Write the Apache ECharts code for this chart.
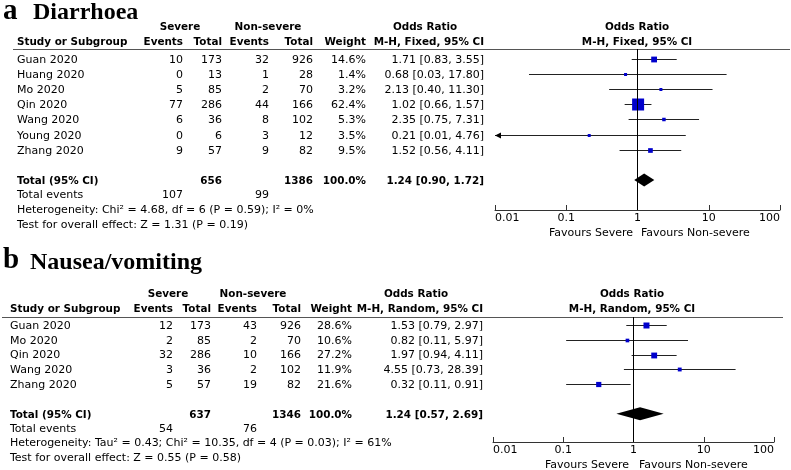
<!DOCTYPE html>
<html><head><meta charset="utf-8">
<script src="https://cdn.jsdelivr.net/npm/echarts@6/dist/echarts.min.js"></script>
<style>html,body{margin:0;padding:0;background:#fff}#c{width:791px;height:470px}</style>
</head><body><div id="c"></div>
<script>
// ---------- Data: panel a (Diarrhoea) ----------
const titleA = 'Diarrhoea';
const studiesA = ['Guan 2020','Huang 2020','Mo 2020','Qin 2020','Wang 2020','Young 2020','Zhang 2020'];
const sevEventsA = [10, 0, 5, 77, 6, 0, 9];
const sevTotalA = [173, 13, 85, 286, 36, 6, 57];
const nonEventsA = [32, 1, 2, 44, 8, 3, 9];
const nonTotalA = [926, 28, 70, 166, 102, 12, 82];
const weightA = [14.6, 1.4, 3.2, 62.4, 5.3, 3.5, 9.5];
const orA = [1.71, 0.68, 2.13, 1.02, 2.35, 0.21, 1.52];
const lowA = [0.83, 0.03, 0.40, 0.66, 0.75, 0.01, 0.56];
const highA = [3.55, 17.80, 11.30, 1.57, 7.31, 4.76, 4.11];
const pooledA = [1.24, 0.90, 1.72];
const totalsA = [656, 1386];
const totalEventsA = [107, 99];
const methodA = 'M-H, Fixed, 95% CI';
const hetA = 'Heterogeneity: Chi\u00B2 = 4.68, df = 6 (P = 0.59); I\u00B2 = 0%';
const testA = 'Test for overall effect: Z = 1.31 (P = 0.19)';

// ---------- Data: panel b (Nausea/vomiting) ----------
const titleB = 'Nausea/vomiting';
const studiesB = ['Guan 2020','Mo 2020','Qin 2020','Wang 2020','Zhang 2020'];
const sevEventsB = [12, 2, 32, 3, 5];
const sevTotalB = [173, 85, 286, 36, 57];
const nonEventsB = [43, 2, 10, 2, 19];
const nonTotalB = [926, 70, 166, 102, 82];
const weightB = [28.6, 10.6, 27.2, 11.9, 21.6];
const orB = [1.53, 0.82, 1.97, 4.55, 0.32];
const lowB = [0.79, 0.11, 0.94, 0.73, 0.11];
const highB = [2.97, 5.97, 4.11, 28.39, 0.91];
const pooledB = [1.24, 0.57, 2.69];
const totalsB = [637, 1346];
const totalEventsB = [54, 76];
const methodB = 'M-H, Random, 95% CI';
const hetB = 'Heterogeneity: Tau\u00B2 = 0.43; Chi\u00B2 = 10.35, df = 4 (P = 0.03); I\u00B2 = 61%';
const testB = 'Test for overall effect: Z = 0.55 (P = 0.58)';

// ---------- Axis tick labels ----------
const tickLabels = ['0.01', '0.1', '1', '10', '100'];
const AXIS_MIN = 0.01, AXIS_MAX = 100;

// ---------- Layout ----------
const layA = {letter:'a', left:17, cols:[183,222,269,313,366,484], hdr1:27, hdr2:42, row0:58.5, step:15.2, textDy:1.2,
  totalRow:8, sumY:[195,210,225], lineY:49, lineX:[13,790], sevC:180, nonC:268, orC:425, plotC:637,
  favY:233, fav:[633,641], letterY:12, titleY:13, titleX:33, grid:{left:495, top:49, width:285, height:161}, sqK:12/Math.sqrt(62.4)};
const layB = {letter:'b', left:10, cols:[173,211,257,301,352,483], hdr1:294, hdr2:309, row0:325, step:14.8, textDy:1,
  totalRow:6, sumY:[429,443,458], lineY:317, lineX:[2,783], sevC:168, nonC:253, orC:416, plotC:632,
  favY:465, fav:[629,639], letterY:261, titleY:263, titleX:30, grid:{left:493, top:317, width:281, height:125}, sqK:6/Math.sqrt(28.6)};

const REG = '11px "DejaVu Sans"';
const BOLD = 'bold 10.4px "DejaVu Sans"';

function T(x, y, text, align, font) {
  return {type:'text', x:x, y:y, silent:true,
    style:{text:String(text), font:font||REG, fill:'#000', align:align||'left', textAlign:align||'left',
      verticalAlign:'middle', textVerticalAlign:'middle'}};
}
function fmtCI(v) { return v[0].toFixed(2) + ' [' + v[1].toFixed(2) + ', ' + v[2].toFixed(2) + ']'; }

function tableGraphics(L, title, studies, se, st, ne, nt, w, or, lo, hi, pooled, totals, tev, method, het, test) {
  const g = [];
  // Title
  g.push(T(3, L.letterY, L.letter, 'left', 'bold 29px "Liberation Serif"'));
  g.push(T(L.titleX, L.titleY, title, 'left', 'bold 24px "Liberation Serif"'));
  // headers
  g.push(T(L.sevC, L.hdr1, 'Severe', 'center', BOLD));
  g.push(T(L.nonC, L.hdr1, 'Non-severe', 'center', BOLD));
  g.push(T(L.orC, L.hdr1, 'Odds Ratio', 'center', BOLD));
  g.push(T(L.plotC, L.hdr1, 'Odds Ratio', 'center', BOLD));
  g.push(T(L.left, L.hdr2, 'Study or Subgroup', 'left', BOLD));
  const hd = ['Events','Total','Events','Total','Weight', method];
  hd.forEach((h,i)=>g.push(T(L.cols[i], L.hdr2, h, 'right', BOLD)));
  g.push(T(L.plotC, L.hdr2, method, 'center', BOLD));
  g.push({type:'line', silent:true, shape:{x1:L.lineX[0], y1:L.lineY+0.5, x2:L.lineX[1], y2:L.lineY+0.5}, style:{stroke:'#555', lineWidth:1.2}});
  // rows
  studies.forEach((s,i)=>{
    const y = L.row0 + L.step*i + L.textDy;
    g.push(T(L.left, y, s, 'left'));
    const vals = [se[i], st[i], ne[i], nt[i], w[i].toFixed(1)+'%', fmtCI([or[i], lo[i], hi[i]])];
    vals.forEach((v,j)=>g.push(T(L.cols[j], y, v, 'right')));
  });
  // total
  const ty = L.row0 + L.step*L.totalRow + L.textDy;
  g.push(T(L.left, ty, 'Total (95% CI)', 'left', BOLD));
  g.push(T(L.cols[1], ty, totals[0], 'right', BOLD));
  g.push(T(L.cols[3], ty, totals[1], 'right', BOLD));
  g.push(T(L.cols[4], ty, '100.0%', 'right', BOLD));
  g.push(T(L.cols[5], ty, fmtCI(pooled), 'right', BOLD));
  g.push(T(L.left, L.sumY[0], 'Total events', 'left'));
  g.push(T(L.cols[0], L.sumY[0], tev[0], 'right'));
  g.push(T(L.cols[2], L.sumY[0], tev[1], 'right'));
  g.push(T(L.left, L.sumY[1], het, 'left'));
  g.push(T(L.left, L.sumY[2], test, 'left'));
  // favours
  g.push(T(L.fav[0], L.favY, 'Favours Severe', 'right'));
  g.push(T(L.fav[1], L.favY, 'Favours Non-severe', 'left'));
  return g;
}

function studyRender(k) {
  return function(params, api) {
    const or = api.value(0), row = api.value(1), lo = api.value(2), hi = api.value(3), w = api.value(4);
    const c = api.coord([or, row]);
    const p1 = api.coord([Math.max(lo, AXIS_MIN), row]);
    const p2 = api.coord([Math.min(hi, AXIS_MAX), row]);
    const cs = params.coordSys;
    const y = Math.round(c[1]) + 0.5;
    const children = [{type:'line', shape:{x1:p1[0], y1:y, x2:p2[0], y2:y}, style:{stroke:'#222', lineWidth:1}}];
    if (lo <= AXIS_MIN) {
      children.push({type:'polygon', shape:{points:[[cs.x, y],[cs.x+6, y-3],[cs.x+6, y+3]]}, style:{fill:'#000'}});
    }
    const s = Math.max(3, k*Math.sqrt(w));
    children.push({type:'rect', shape:{x:c[0]-s/2, y:y-s/2, width:s, height:s}, style:{fill:'#0000cc'}});
    return {type:'group', children:children};
  };
}
function diamondRender(params, api) {
  const c = api.coord([api.value(0), api.value(1)]);
  const l = api.coord([api.value(2), api.value(1)]);
  const r = api.coord([api.value(3), api.value(1)]);
  const h = 6.5;
  return {type:'polygon', shape:{points:[[l[0], c[1]], [c[0], c[1]-h], [r[0], c[1]], [c[0], c[1]+h]]}, style:{fill:'#000'}};
}

function xAxisCfg(idx) {
  return {type:'log', logBase:10, min:AXIS_MIN, max:AXIS_MAX, gridIndex:idx,
    axisLine:{show:true, onZero:false, lineStyle:{color:'#333', width:1}},
    axisTick:{show:true, inside:true, length:5, lineStyle:{color:'#333'}},
    splitLine:{show:false}, minorTick:{show:false},
    axisLabel:{show:true, margin:3, color:'#000', fontSize:11, fontFamily:'DejaVu Sans',
      alignMinLabel:'left', alignMaxLabel:'right',
      formatter:function(v, i){ return tickLabels[i] !== undefined ? tickLabels[i] : ''; }}};
}
function yAxisCfg(idx, L) {
  return {type:'value', gridIndex:idx, inverse:true, show:false,
    min:(L.lineY - L.row0)/L.step, max:(L.grid.top + L.grid.height - L.row0)/L.step};
}

const refLine = {silent:true, symbol:['none','none'], label:{show:false}, animation:false,
  lineStyle:{color:'#000', width:1, type:'solid'}, data:[{xAxis:1}]};

const option = {
  animation:false,
  backgroundColor:'#fff',
  grid:[Object.assign({containLabel:false}, layA.grid), Object.assign({containLabel:false}, layB.grid)],
  xAxis:[xAxisCfg(0), xAxisCfg(1)],
  yAxis:[yAxisCfg(0, layA), yAxisCfg(1, layB)],
  series:[
    {type:'custom', xAxisIndex:0, yAxisIndex:0, renderItem:studyRender(layA.sqK), clip:false,
      encode:{x:0, y:1}, data:orA.map((v,i)=>[v, i, lowA[i], highA[i], weightA[i]]), markLine:refLine, z:3},
    {type:'custom', xAxisIndex:0, yAxisIndex:0, renderItem:diamondRender, encode:{x:0, y:1},
      data:[[pooledA[0], layA.totalRow, pooledA[1], pooledA[2]]], z:4},
    {type:'custom', xAxisIndex:1, yAxisIndex:1, renderItem:studyRender(layB.sqK), clip:false,
      encode:{x:0, y:1}, data:orB.map((v,i)=>[v, i, lowB[i], highB[i], weightB[i]]), markLine:refLine, z:3},
    {type:'custom', xAxisIndex:1, yAxisIndex:1, renderItem:diamondRender, encode:{x:0, y:1},
      data:[[pooledB[0], layB.totalRow, pooledB[1], pooledB[2]]], z:4}
  ],
  graphic:{elements:[].concat(
    tableGraphics(layA, titleA, studiesA, sevEventsA, sevTotalA, nonEventsA, nonTotalA, weightA, orA, lowA, highA, pooledA, totalsA, totalEventsA, methodA, hetA, testA),
    tableGraphics(layB, titleB, studiesB, sevEventsB, sevTotalB, nonEventsB, nonTotalB, weightB, orB, lowB, highB, pooledB, totalsB, totalEventsB, methodB, hetB, testB)
  )}
};
const chart = echarts.init(document.getElementById('c'), null, {renderer:'canvas'});
chart.setOption(option);
</script>
</body></html>
